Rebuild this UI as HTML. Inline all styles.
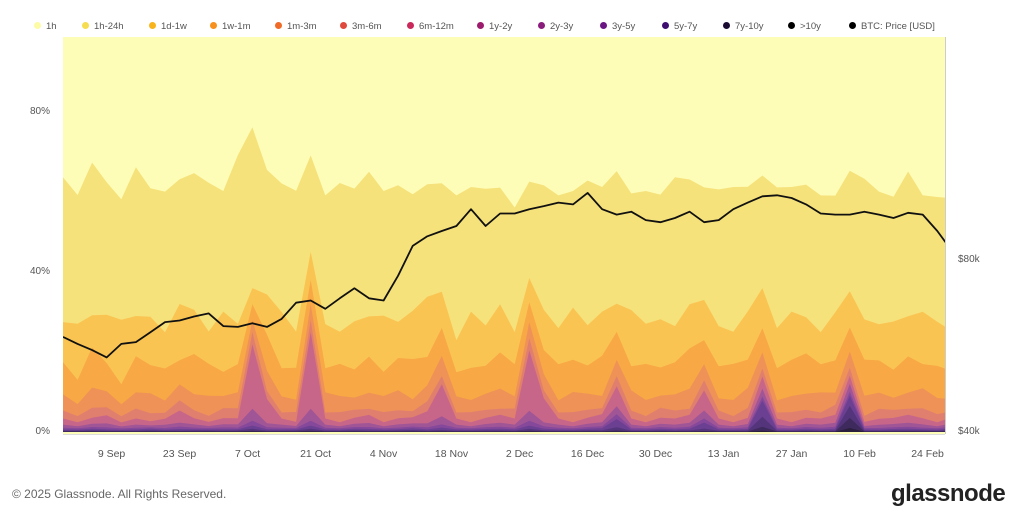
<!DOCTYPE html>
<html><head><meta charset="utf-8">
<style>
body{margin:0;width:1011px;height:515px;background:#fff;font-family:"Liberation Sans",sans-serif;overflow:hidden;position:relative}
.leg{position:absolute;top:21px;font-size:9.5px;color:#555;white-space:nowrap}
.leg i{display:inline-block;width:7px;height:7px;border-radius:50%;margin-right:5px;vertical-align:-0px}
#foot{position:absolute;left:12px;top:487px;font-size:12px;color:#666}
#logo{position:absolute;left:891px;top:480px;font-size:24px;font-weight:bold;color:#222;letter-spacing:-0.5px}
</style></head><body>
<div id="legend"></div>
<svg id="chart" width="1011" height="515" style="position:absolute;left:0;top:0"></svg>
<div id="foot">© 2025 Glassnode. All Rights Reserved.</div>
<div id="logo">glassnode</div>
<script>
const startDate = "2024-08-30";
const stepDays = 3;
const legendNames = ["1h","1h-24h","1d-1w","1w-1m","1m-3m","3m-6m","6m-12m","1y-2y","2y-3y","3y-5y","5y-7y","7y-10y",">10y","BTC: Price [USD]"];
const xTicks = ["9 Sep","23 Sep","7 Oct","21 Oct","4 Nov","18 Nov","2 Dec","16 Dec","30 Dec","13 Jan","27 Jan","10 Feb","24 Feb"];
const xTickDays = [10,24,38,52,66,80,94,108,122,136,150,164,178];
const yTicks = [0,40,80];
const priceTicks = [40,80];
const price = [58.2,56.6,55.2,53.6,56.6,57,59.3,61.8,62.2,63.2,64,60.8,60.6,61.5,60.6,62.6,66.8,67.4,65.2,68,70.8,68,67.4,74.5,84,87.3,89.2,91,97.4,91,95.7,95.7,97.4,98.6,100,99.3,104,97.4,95.3,96.4,93.2,92.4,94,96.4,92.4,93.2,97.4,100,102.6,103,101.9,99.3,95.7,95.3,95.3,96.4,95.3,94,96,95.3,89.2,82.4];
const gt10 = [0.05,0.05,0.05,0.05,0.05,0.05,0.05,0.05,0.05,0.05,0.05,0.05,0.05,0.1,0.05,0.05,0.05,0.1,0.05,0.05,0.05,0.05,0.05,0.05,0.05,0.05,0.05,0.05,0.05,0.05,0.05,0.05,0.1,0.05,0.05,0.05,0.05,0.05,0.1,0.05,0.05,0.05,0.05,0.05,0.05,0.05,0.05,0.05,0.3,0.05,0.05,0.05,0.05,0.05,1,0.05,0.05,0.05,0.05,0.05,0.05,0.05];
const y7_10 = [0.1,0.1,0.15,0.1,0.1,0.1,0.15,0.1,0.1,0.1,0.15,0.1,0.1,0.2,0.1,0.1,0.1,0.2,0.1,0.1,0.15,0.1,0.1,0.1,0.15,0.1,0.15,0.1,0.1,0.1,0.15,0.1,0.2,0.1,0.1,0.1,0.15,0.1,0.3,0.1,0.1,0.15,0.1,0.1,0.2,0.1,0.1,0.1,1,0.1,0.1,0.15,0.1,0.1,2.5,0.1,0.1,0.1,0.15,0.1,0.1,0.15];
const y5_7 = [0.2,0.2,0.25,0.2,0.15,0.2,0.25,0.2,0.2,0.25,0.2,0.2,0.25,0.5,0.2,0.2,0.25,0.5,0.2,0.2,0.25,0.2,0.2,0.25,0.3,0.2,0.3,0.2,0.2,0.25,0.2,0.2,0.5,0.25,0.2,0.2,0.25,0.3,0.8,0.2,0.2,0.25,0.2,0.25,0.6,0.2,0.2,0.25,2.5,0.2,0.2,0.25,0.2,0.25,3,0.2,0.2,0.25,0.2,0.25,0.2,0.3];
const y3_5 = [0.3,0.25,0.35,0.3,0.25,0.3,0.35,0.25,0.4,0.3,0.25,0.35,0.3,0.8,0.35,0.3,0.25,0.8,0.3,0.25,0.35,0.4,0.25,0.3,0.4,0.3,0.6,0.3,0.25,0.35,0.4,0.3,0.8,0.4,0.3,0.25,0.35,0.5,2,0.3,0.25,0.35,0.3,0.4,1.5,0.3,0.25,0.35,4,0.3,0.25,0.35,0.3,0.4,2.5,0.3,0.25,0.35,0.4,0.3,0.25,0.4];
const y2_3 = [0.4,0.35,0.45,0.5,0.35,0.4,0.35,0.4,0.6,0.4,0.35,0.45,0.4,1.2,0.5,0.4,0.35,1.2,0.4,0.35,0.45,0.5,0.35,0.4,0.45,0.5,0.8,0.4,0.35,0.45,0.5,0.4,1.2,0.6,0.4,0.35,0.45,0.5,1.2,0.4,0.35,0.45,0.4,0.5,1,0.4,0.35,0.45,1,0.4,0.35,0.45,0.4,0.5,1,0.35,0.4,0.45,0.5,0.4,0.35,0.45];
const y1_2 = [0.8,0.5,0.8,1,0.5,0.8,0.5,0.8,1,0.8,0.5,0.8,0.8,3,1,0.8,0.5,3,0.8,0.5,0.8,1,0.5,0.8,0.8,1,2,0.8,0.5,0.8,1,0.8,2.5,1,0.8,0.5,0.8,1,2,0.8,0.5,0.8,0.8,1,2,0.8,0.5,0.8,2,0.8,0.5,0.8,0.8,1,2,0.5,0.8,0.8,1,0.8,0.5,0.8];
const m6_12 = [1.5,1,1.5,2,1,1.5,1,1.5,3,1.5,1,1.5,1.5,16,6,1.5,1,19,1.5,1,1.5,2,1,1.5,1.5,3,8,1.5,1,1.5,2,1.5,15,6,1.5,1,1.5,2,5,1.5,1,1.5,1.5,2,5,1.5,1,1.5,3,1.5,1,1.5,1.5,2,2,1,1.5,1.5,2,1.5,1,1.5];
const m3_6 = [2,1.5,2.5,2,1.5,2.5,2,1.5,2.5,2,1.5,2.5,2.5,3,2,1.5,2.5,3,1.5,2.5,2,1.5,2.5,2,1.5,2.5,2,1.5,2.5,2,1.5,2.5,3,2,1.5,2.5,2,1.5,2.5,2,1.5,2.5,2,1.5,2.5,2,1.5,2.5,2,1.5,2.5,2,1.5,2.5,2,1.5,2.5,2,1.5,2.5,2,1.5];
const m1_3 = [4,3,5,4,3,4,5,3,4,4,5,3,4,3,5,4,3,4,5,4,3,4,4,5,3,4,5,4,3,4,5,3,4,4,3,5,4,3,4,5,4,3,4,5,4,3,4,5,4,3,4,4,5,3,4,5,4,3,4,5,4,3];
const w1_1m = [8,6,10,7,5,9,7,8,6,10,8,6,7,4,9,7,8,6,6,8,7,9,6,8,10,7,7,6,8,7,9,8,5,6,9,8,7,10,7,6,9,7,8,10,6,8,9,7,6,8,9,10,7,8,6,9,8,7,9,6,8,7];
const d1_1w = [10,14,8,12,16,10,12,9,14,11,8,15,10,4,10,14,9,7,11,8,12,10,14,9,12,15,9,8,14,10,12,8,6,10,9,13,10,11,7,14,10,12,9,11,10,10,8,12,10,10,12,9,8,12,9,10,9,12,10,13,11,10];
const h1_24h = [36,32,38,33,30,37,32,35,31,34,37,30,42,40,31,32,35,24,32,37,33,36,31,34,29,28,27,36,31,34,29,31,24,31,33,29,36,31,33,29,33,31,37,31,28,34,36,31,28,35,31,33,34,29,30,35,33,31,36,29,31,33];

const layers = [gt10,y7_10,y5_7,y3_5,y2_3,y1_2,m6_12,m3_6,m1_3,w1_1m,d1_1w,h1_24h];
const layerNames = ["gt-10y","7y-10y","5y-7y","3y-5y","2y-3y","1y-2y","6m-12m","3m-6m","1m-3m","1w-1m","1d-1w","1h-24h"];
const layerColors = ["#2a1f3d","#3f2a5e","#54357c","#6b3f92","#85489a","#a05596","#c8668a","#e07f6e","#ee9258","#f8a844","#fac453","#f6e27b"];
const legendColors = ["#fdfca5","#f6dc4f","#f8b41c","#f7901c","#f06a28","#df4a3c","#c92a5b","#9d1b6c","#8a1c7c","#6a1682","#3d0e6f","#1a0b33","#000","#000"];

const L=63,R=945,T=37,B=434;
const xDay = d => L + d*4.857;
const yPct = p => 432 - p*4.02;
const yPrice = v => 430 - 172*Math.log2(v/40);
const NS="http://www.w3.org/2000/svg";
const svg=document.getElementById('chart');
function mk(tag,attrs){const e=document.createElementNS(NS,tag);for(const k in attrs)e.setAttribute(k,attrs[k]);return e;}

const clip=mk('clipPath',{id:'pc'});clip.appendChild(mk('rect',{x:L,y:T,width:R-L,height:B-T}));svg.appendChild(clip);
const g=mk('g',{'clip-path':'url(#pc)'});svg.appendChild(g);
const bg=mk('rect',{x:L,y:T,width:R-L,height:B-T,fill:'#fefdb8'});


g.appendChild(bg);
const n=price.length;
const cum=new Array(n).fill(0);
const tops=[];
layers.forEach(arr=>{const lo=cum.slice();for(let i=0;i<n;i++)cum[i]+=arr[i];tops.push([lo,cum.slice()]);});
for(let k=layers.length-1;k>=0;k--){
  const [lo,hi]=tops[k];
  let d='';
  for(let i=0;i<n;i++)d+=(i?'L':'M')+xDay(i*stepDays).toFixed(1)+','+yPct(hi[i]).toFixed(1);
  for(let i=n-1;i>=0;i--)d+='L'+xDay(i*stepDays).toFixed(1)+','+yPct(0).toFixed(1);
  const p=mk('path',{d:d+'Z',fill:layerColors[k]});
  
  
  g.appendChild(p);
}
let pd='';
for(let i=0;i<n;i++)pd+=(i?'L':'M')+xDay(i*stepDays).toFixed(1)+','+yPrice(price[i]).toFixed(1);
const pl=mk('path',{d:pd,fill:'none',stroke:'#111','stroke-width':1.8,'stroke-linejoin':'round'});


g.appendChild(pl);
const bl=mk('line',{x1:R+0.5,x2:R+0.5,y1:T,y2:B,stroke:'#ccc'});svg.appendChild(bl);
const bb=mk('line',{x1:L,x2:R,y1:B+0.5,y2:B+0.5,stroke:'#ddd'});svg.appendChild(bb);

yTicks.forEach(t=>{
  const tx=mk('text',{x:50,y:430-t*4+4,'text-anchor':'end','font-size':10,fill:'#555'});
  tx.textContent=t+'%';
  
  
  svg.appendChild(tx);
});
priceTicks.forEach(t=>{
  const tx=mk('text',{x:958,y:yPrice(t)+4,'font-size':10,fill:'#555'});
  tx.textContent='$'+t+'k';
  
  
  svg.appendChild(tx);
});
xTicks.forEach((t,i)=>{
  const tx=mk('text',{x:xDay(xTickDays[i]),y:457,'text-anchor':'middle','font-size':10.5,fill:'#555'});
  tx.textContent=t;
  
  
  svg.appendChild(tx);
});

const legX=[34,82,149,210,275,340,407,477,538,600,662,723,788,849];
const leg=document.getElementById('legend');
legendNames.forEach((nm,i)=>{
  const d=document.createElement('div');
  d.className='leg';d.style.left=legX[i]+'px';
  
  
  d.innerHTML='<i style="background:'+legendColors[i]+'"></i>'+nm.replace('>','&gt;');
  leg.appendChild(d);
});
</script>
</body></html>
